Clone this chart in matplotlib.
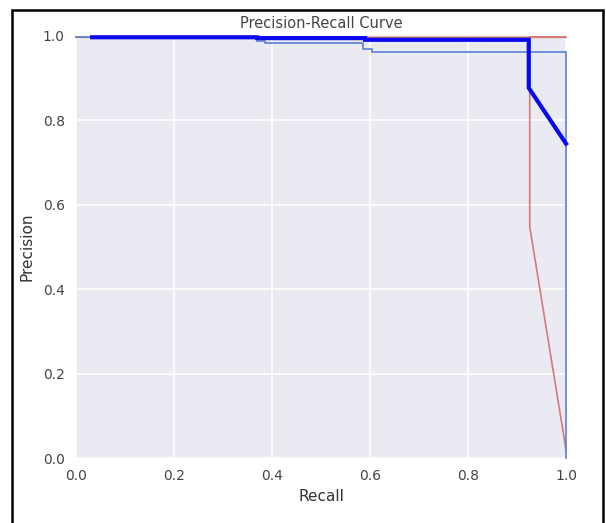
import matplotlib
matplotlib.use("Agg")
import matplotlib.pyplot as plt
from matplotlib.patches import Rectangle

# Data
xticks = [0.0, 0.2, 0.4, 0.6, 0.8, 1.0]
yticks = [0.0, 0.2, 0.4, 0.6, 0.8, 1.0]

# thin blue curve
thin_recall = [0.0, 0.37, 0.37, 0.385, 0.385, 0.585, 0.585, 0.605, 0.605, 1.0, 1.0]
thin_precision = [0.997, 0.997, 0.988, 0.988, 0.983, 0.983, 0.970, 0.970, 0.961, 0.961, 0.0]

# red curve
red_recall = [0.0, 0.926, 1.0, 1.0, 0.926, 0.926, 1.0]
red_precision = [0.997, 0.997, 0.997, 0.997, 0.997, 0.548, 0.02]

# thick blue curve
thick_recall = [0.033, 0.37, 0.37, 0.59, 0.59, 0.924, 0.924, 1.0]
thick_precision = [0.997, 0.997, 0.995, 0.995, 0.991, 0.991, 0.877, 0.745]

W, H = 606, 523
fig = plt.figure(figsize=(W / 100, H / 100), dpi=100)
fig.patch.set_facecolor("white")

ax = fig.add_axes([76 / W, 1 - 458 / H, (566 - 76) / W, (458 - 36) / H])
ax.set_facecolor("#eaeaf2")
for s in ax.spines.values():
    s.set_visible(False)
ax.grid(True, color="white", linewidth=1.2)
ax.set_axisbelow(True)

ax.plot(red_recall, red_precision, color="#d47a78", linewidth=1.2, clip_on=False)
ax.plot(thin_recall, thin_precision, color="#5b7fd2", linewidth=1.2, clip_on=False)
ax.plot(thick_recall, thick_precision, color="#0a0af0", linewidth=3.0, clip_on=False,
        solid_joinstyle="miter")

ax.set_xlim(0, 1.0)
ax.set_ylim(0, 1.0)
ax.set_xticks(xticks)
ax.set_yticks(yticks)
ax.set_xticklabels([f"{v:.1f}" for v in xticks])
ax.set_yticklabels([f"{v:.1f}" for v in yticks])
ax.tick_params(length=0, labelsize=10, colors="#444444", pad=8)
ax.set_xlabel("Recall", fontsize=11, color="#333333", labelpad=4)
ax.set_ylabel("Precision", fontsize=11, color="#333333", labelpad=6)
ax.set_title("Precision-Recall Curve", fontsize=10.5, color="#444444", pad=6)

# document frame around the figure
fig.patches.append(Rectangle((12 / W, -0.05), (603 - 12) / W, 1.05 - 10 / H,
                             transform=fig.transFigure, fill=False,
                             edgecolor="black", linewidth=1.8))

fig.savefig("out.png", dpi=100)
